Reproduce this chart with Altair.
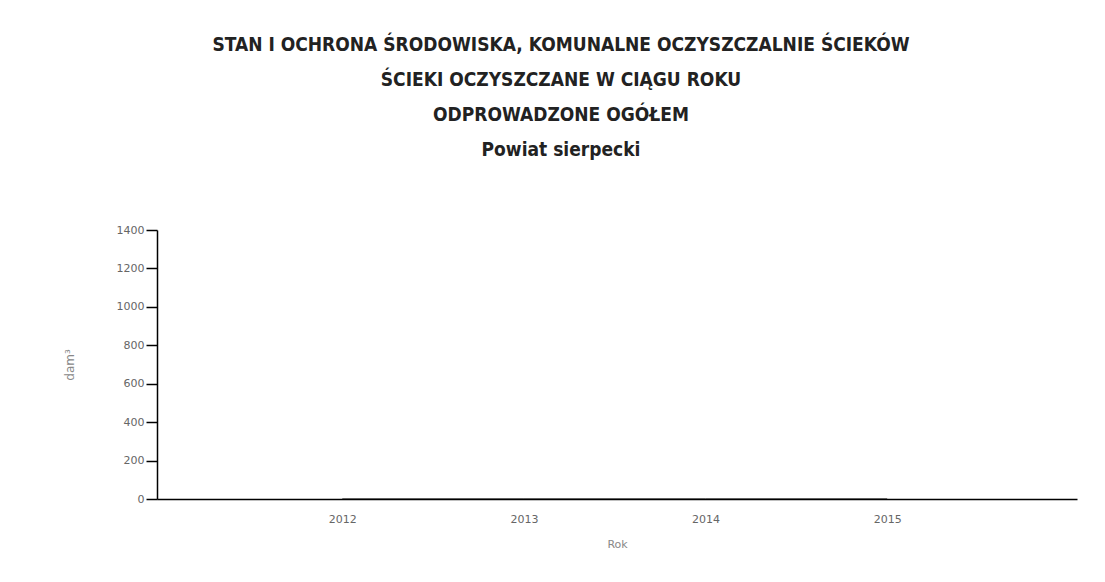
import altair as alt
import pandas as pd

years = [2012, 2013, 2014, 2015]
values = [0, 0, 0, 0]
title_lines = [
    "STAN I OCHRONA ŚRODOWISKA, KOMUNALNE OCZYSZCZALNIE ŚCIEKÓW",
    "ŚCIEKI OCZYSZCZANE W CIĄGU ROKU",
    "ODPROWADZONE OGÓŁEM",
    "Powiat sierpecki",
]
y_ticks = [0, 200, 400, 600, 800, 1000, 1200, 1400]

df = pd.DataFrame({"Rok": years, "value": values})

chart = (
    alt.Chart(df)
    .mark_line(color="black", strokeWidth=1)
    .encode(
        x=alt.X(
            "Rok:Q",
            scale=alt.Scale(domain=[2010.98, 2016.045], nice=False, zero=False),
            axis=alt.Axis(
                values=years, format="d", ticks=False, grid=False,
                domainColor="black", domainWidth=1.5,
                labelColor="#666", labelFont="DejaVu Sans", labelFontSize=11,
                labelPadding=14, title="Rok", titleColor="#888",
                titleFont="DejaVu Sans", titleFontWeight="normal", titleFontSize=11,
                titlePadding=14,
            ),
        ),
        y=alt.Y(
            "value:Q",
            scale=alt.Scale(domain=[0, 1400], nice=False),
            axis=alt.Axis(
                values=y_ticks, format="d", grid=False, tickColor="black", tickSize=11,
                tickWidth=1.5, domainColor="black", domainWidth=1.5,
                labelColor="#666", labelFont="DejaVu Sans", labelFontSize=11,
                labelPadding=2, title="dam³", titleColor="#888",
                titleFont="DejaVu Sans", titleFontWeight="normal", titleFontSize=12,
                titlePadding=40,
            ),
        ),
    )
    .properties(
        width=920,
        height=269,
        padding={"left": 149, "top": 222, "right": 20, "bottom": 80},
        autosize=alt.AutoSizeParams(type="none"),
        background="white",
        title=alt.TitleParams(
            text=title_lines,
            anchor="middle",
            dx=-56,
            font="DejaVu Sans Condensed",
            fontSize=19,
            fontWeight="bold",
            color="#222",
            lineHeight=35,
            offset=64,
        ),
    )
    .configure_view(stroke=None, strokeWidth=0)
)

chart.save("out.html", embed_options={"renderer": "svg", "actions": False})
